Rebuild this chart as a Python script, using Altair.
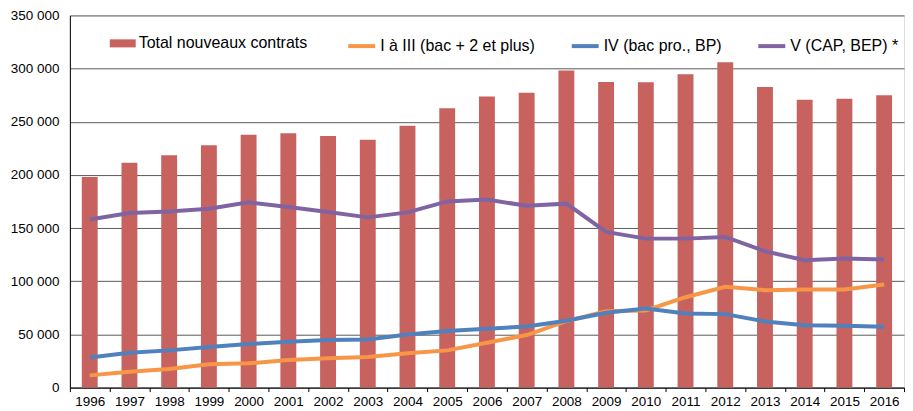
import altair as alt
import pandas as pd

years = [str(y) for y in range(1996, 2017)]
total = [198000, 211500, 218500, 228000, 237800, 239300, 236500, 233000, 246300, 262800,
         273800, 277200, 298200, 287500, 287200, 294800, 306000, 282800, 270800, 271600, 275000]
niv_1_3 = [11500, 15000, 17500, 21900, 22800, 25900, 27500, 28700, 32200, 35000,
           42200, 49400, 62500, 71900, 72500, 85000, 94800, 91600, 92200, 92200, 97000]
niv_4 = [28400, 32800, 35000, 38100, 40900, 43200, 44700, 45300, 50000, 53300,
         55400, 57500, 62900, 70400, 74400, 69700, 69100, 62200, 58700, 58200, 57200]
niv_5 = [158000, 164200, 165700, 168200, 174200, 169800, 165200, 160100, 164800, 175100,
         176800, 171000, 173000, 146400, 140100, 140100, 141700, 128200, 119700, 121300, 120400]

bar_name = "Total nouveaux contrats"
line_names = ["I à III (bac + 2 et plus)", "IV (bac pro., BP)", "V (CAP, BEP) *"]
line_colors = ["#F79646", "#4F81BD", "#8064A2"]
bar_color = "#C8625F"
y_ticks = [0, 50000, 100000, 150000, 200000, 250000, 300000, 350000]

bars_df = pd.DataFrame({"year": years, "value": total, "serie": bar_name})
rows = []
for name, vals in zip(line_names, [niv_1_3, niv_4, niv_5]):
    for y, v in zip(years, vals):
        rows.append({"year": y, "value": v, "serie": name})
lines_df = pd.DataFrame(rows)

FONT = "Liberation Sans"

x_enc = alt.X("year:N", title=None, sort=years,
              scale=alt.Scale(paddingInner=0, paddingOuter=0),
              axis=alt.Axis(labelAngle=0, tickBand="extent", ticks=True, tickSize=4,
                            tickColor="#000", domainColor="#000", labelFontSize=13.5,
                            labelColor="#000", labelPadding=3, labelFont=FONT, grid=False))
y_scale = alt.Scale(domain=[0, 350000], nice=False)
y_axis = alt.Axis(values=y_ticks, title=None, ticks=False, labelPadding=11,
                  labelFontSize=13.5, labelColor="#000", labelFont=FONT,
                  labelExpr="replace(format(datum.value, ',d'), ',', ' ')",
                  grid=True, gridColor="#5a5a5a", gridWidth=1,
                  domainColor="#000")

bars = alt.Chart(bars_df).mark_bar(width=alt.RelativeBandSize(0.4), color=bar_color).encode(
    x=x_enc,
    y=alt.Y("value:Q", scale=y_scale, axis=y_axis),
    fill=alt.Fill("serie:N", scale=alt.Scale(domain=[bar_name], range=[bar_color]),
                  legend=alt.Legend(title=None, orient="none", legendX=40, legendY=15,
                                    symbolType="M-1,-0.31H1V0.31H-1Z", symbolSize=676,
                                    symbolStrokeWidth=0, labelFontSize=16, labelFont=FONT,
                                    labelColor="#000", labelOffset=3, labelLimit=400)),
)

lines = alt.Chart(lines_df).mark_line(strokeWidth=4).encode(
    x=alt.X("year:N", sort=years),
    y=alt.Y("value:Q", scale=y_scale),
    stroke=alt.Stroke("serie:N", sort=line_names,
                      scale=alt.Scale(domain=line_names, range=line_colors),
                      legend=alt.Legend(title=None, orient="none", direction="horizontal",
                                        legendX=277, legendY=15, symbolType="stroke",
                                        symbolSize=729, symbolStrokeWidth=4,
                                        columnPadding=28, labelFontSize=16, labelFont=FONT,
                                        labelColor="#000", labelOffset=3, labelLimit=400)),
    detail="serie:N",
)

chart = alt.layer(bars, lines).resolve_scale(fill="independent", stroke="independent").properties(
    width=836, height=373,
    padding={"left": 2, "top": 0, "right": 0, "bottom": 0},
).configure_view(stroke=None).configure(background="white")

chart.save("out.html", embed_options={"renderer": "svg", "actions": False})
